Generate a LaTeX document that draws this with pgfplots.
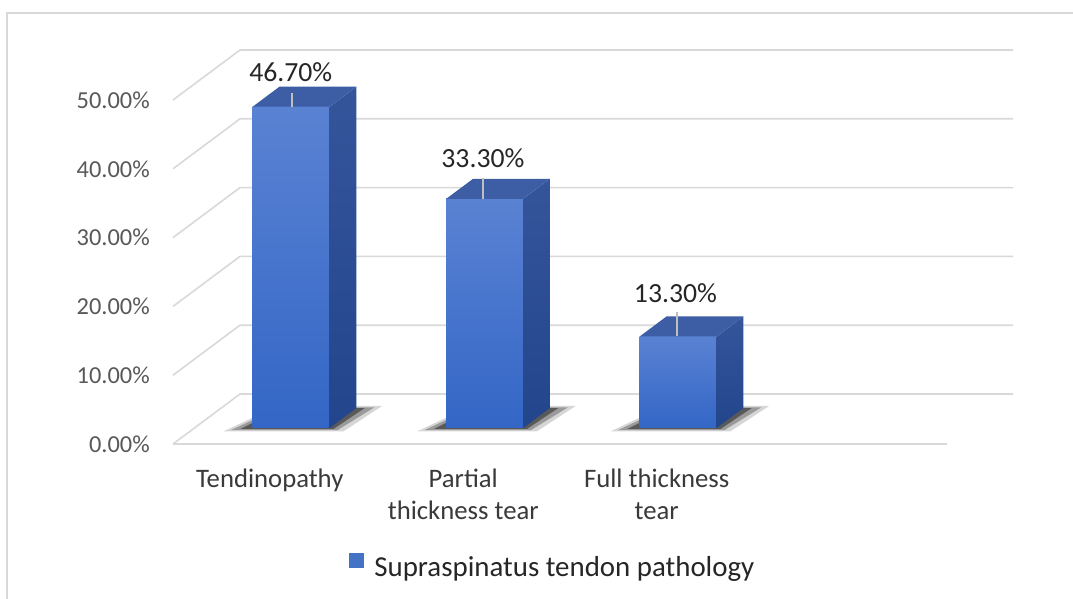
\documentclass[border=0pt]{standalone}
\usepackage{pgfplots}
\pgfplotsset{compat=1.18}
\usepackage{fontspec}
\setmainfont{Carlito}
\definecolor{gridgray}{HTML}{D9D9D9}
\definecolor{framegray}{HTML}{D9D9D9}
\definecolor{ticktext}{HTML}{595959}
\definecolor{cattext}{HTML}{3A3A3A}
\definecolor{datatext}{HTML}{262626}
\definecolor{legtext}{HTML}{262626}
\definecolor{fronttop}{HTML}{5A82D3}
\definecolor{frontbot}{HTML}{3366C6}
\definecolor{sidetop}{HTML}{35559B}
\definecolor{sidebot}{HTML}{22458C}
\definecolor{topcol}{HTML}{3D5DA5}
\definecolor{legblue}{HTML}{4472C4}
\definecolor{leadgray}{HTML}{BFBFBF}
\newcommand\tickfont{\fontsize{24.4bp}{29bp}\selectfont}
\newcommand\catfont{\fontsize{26.7bp}{32bp}\selectfont}
\newcommand\datafont{\fontsize{27.7bp}{33bp}\selectfont}
\newcommand\legfont{\fontsize{28.9bp}{34bp}\selectfont}
\begin{document}
\begin{tikzpicture}
\useasboundingbox (-173bp,-155bp) rectangle (900bp,444bp);
\fill[white] (-173bp,-155bp) rectangle (900bp,444bp);
\draw[framegray, line width=2bp] (900bp,431bp) -- (-166bp,431bp) -- (-166bp,-155bp);
% ---------- main axis: walls, grid, ticks, legend ----------
\begin{axis}[
  at={(0bp,0bp)}, anchor=south west,
  scale only axis, width=840bp, height=394bp,
  xmin=0, xmax=4.3411, ymin=0, ymax=57.267,
  enlargelimits=false, clip=false,
  axis line style={draw=none}, tick style={draw=none}, major tick length=0pt,
  ytick={0,10,20,30,40,50},
  yticklabels={0.00\%,10.00\%,20.00\%,30.00\%,40.00\%,50.00\%},
  yticklabel style={anchor=east, inner sep=0pt, xshift=-23bp, font=\tickfont, text=ticktext},
  xtick={0.5,1.5,2.5},
  xticklabels={Tendinopathy,{Partial\\thickness tear},{Full thickness\\tear}},
  xticklabel style={anchor=north, inner sep=0pt, yshift=-25bp, align=center, font=\catfont, text=cattext},
  legend style={at={(0.2095,-0.3096)}, anchor=west, draw=none, fill=none,
    inner sep=0pt, outer sep=0pt, font=\legfont, text=legtext,
    nodes={inner sep=0pt},
    /tikz/every odd column/.append style={column sep=11bp}},
]
\addplot[forget plot, gridgray, line width=1.6bp] coordinates {(0,0) (4,0)};
\addplot[forget plot, gridgray, line width=1.6bp] coordinates {(0,0) (0.3463,7.267) (4.3411,7.267)};
\addplot[forget plot, gridgray, line width=1.6bp] coordinates {(0,10) (0.3463,17.267) (4.3411,17.267)};
\addplot[forget plot, gridgray, line width=1.6bp] coordinates {(0,20) (0.3463,27.267) (4.3411,27.267)};
\addplot[forget plot, gridgray, line width=1.6bp] coordinates {(0,30) (0.3463,37.267) (4.3411,37.267)};
\addplot[forget plot, gridgray, line width=1.6bp] coordinates {(0,40) (0.3463,47.267) (4.3411,47.267)};
\addplot[forget plot, gridgray, line width=1.6bp] coordinates {(0,50) (0.3463,57.267) (4.3411,57.267)};
\addlegendimage{legend image code/.code={\fill[legblue] (0bp,0bp) rectangle (14bp,14bp);}}
\addlegendentry{Supraspinatus tendon pathology}
\end{axis}
% ---------- bar axis (front plane of the bars) ----------
\begin{axis}[
  at={(21.4bp,16bp)}, anchor=south west,
  scale only axis, width=840bp, height=394bp,
  xmin=0, xmax=4.3411, ymin=0, ymax=57.267,
  enlargelimits=false, clip=false, hide axis,
]
% soft shadows on the floor
\addplot[forget plot, draw=none, fill=black, fill opacity=0.16] coordinates {(0.15,-0.5) (0.77,-0.5) (0.97,3.2) (0.43,3.2)} -- cycle;
\addplot[forget plot, draw=none, fill=black, fill opacity=0.28] coordinates {(0.19,-0.3) (0.74,-0.3) (0.93,3.0) (0.44,3.0)} -- cycle;
\addplot[forget plot, draw=none, fill=black, fill opacity=0.42] coordinates {(0.24,-0.12) (0.72,-0.12) (0.88,2.9) (0.45,2.9)} -- cycle;
\addplot[forget plot, draw=none, fill=black, fill opacity=0.16] coordinates {(1.15,-0.5) (1.77,-0.5) (1.97,3.2) (1.43,3.2)} -- cycle;
\addplot[forget plot, draw=none, fill=black, fill opacity=0.28] coordinates {(1.19,-0.3) (1.74,-0.3) (1.93,3.0) (1.44,3.0)} -- cycle;
\addplot[forget plot, draw=none, fill=black, fill opacity=0.42] coordinates {(1.24,-0.12) (1.72,-0.12) (1.88,2.9) (1.45,2.9)} -- cycle;
\addplot[forget plot, draw=none, fill=black, fill opacity=0.16] coordinates {(2.15,-0.5) (2.77,-0.5) (2.97,3.2) (2.43,3.2)} -- cycle;
\addplot[forget plot, draw=none, fill=black, fill opacity=0.28] coordinates {(2.19,-0.3) (2.74,-0.3) (2.93,3.0) (2.44,3.0)} -- cycle;
\addplot[forget plot, draw=none, fill=black, fill opacity=0.42] coordinates {(2.24,-0.12) (2.72,-0.12) (2.88,2.9) (2.45,2.9)} -- cycle;
% bar 1: Tendinopathy 46.7
\addplot[forget plot, ybar, bar width=77bp, bar shift=0pt, draw=none, top color=fronttop, bottom color=frontbot] coordinates {(0.5,46.7)};
\addplot[forget plot, draw=none, top color=sidetop, bottom color=sidebot] coordinates {(0.699,0) (0.8375,2.907) (0.8375,49.607) (0.699,46.7)} -- cycle;
\addplot[forget plot, draw=none, fill=topcol] coordinates {(0.301,46.7) (0.699,46.7) (0.8375,49.607) (0.4395,49.607)} -- cycle;
% bar 2: Partial thickness tear 33.3
\addplot[forget plot, ybar, bar width=77bp, bar shift=0pt, draw=none, top color=fronttop, bottom color=frontbot] coordinates {(1.5,33.3)};
\addplot[forget plot, draw=none, top color=sidetop, bottom color=sidebot] coordinates {(1.699,0) (1.8375,2.907) (1.8375,36.207) (1.699,33.3)} -- cycle;
\addplot[forget plot, draw=none, fill=topcol] coordinates {(1.301,33.3) (1.699,33.3) (1.8375,36.207) (1.4395,36.207)} -- cycle;
% bar 3: Full thickness tear 13.3
\addplot[forget plot, ybar, bar width=77bp, bar shift=0pt, draw=none, top color=fronttop, bottom color=frontbot] coordinates {(2.5,13.3)};
\addplot[forget plot, draw=none, top color=sidetop, bottom color=sidebot] coordinates {(2.699,0) (2.8375,2.907) (2.8375,16.207) (2.699,13.3)} -- cycle;
\addplot[forget plot, draw=none, fill=topcol] coordinates {(2.301,13.3) (2.699,13.3) (2.8375,16.207) (2.4395,16.207)} -- cycle;
% leader lines
\addplot[forget plot, leadgray, line width=2bp] coordinates {(0.504,46.7) (0.504,48.7)};
\addplot[forget plot, leadgray, line width=2bp] coordinates {(1.492,33.3) (1.492,36.3)};
\addplot[forget plot, leadgray, line width=2bp] coordinates {(2.494,13.3) (2.494,16.9)};
% data labels
\addplot[forget plot, draw=none, mark=none,
  point meta=explicit,
  nodes near coords={\pgfmathprintnumber[fixed, fixed zerofill, precision=2, assume math mode=true]{\pgfplotspointmeta}\%},
  nodes near coords style={anchor=center, inner sep=0pt, font=\datafont, text=datatext}]
  table[meta=v, row sep=\\] {x y v\\ 0.498 51.74 46.7\\ 1.491 39.17 33.3\\ 2.486 19.62 13.3\\};
\end{axis}
\end{tikzpicture}
\end{document}
